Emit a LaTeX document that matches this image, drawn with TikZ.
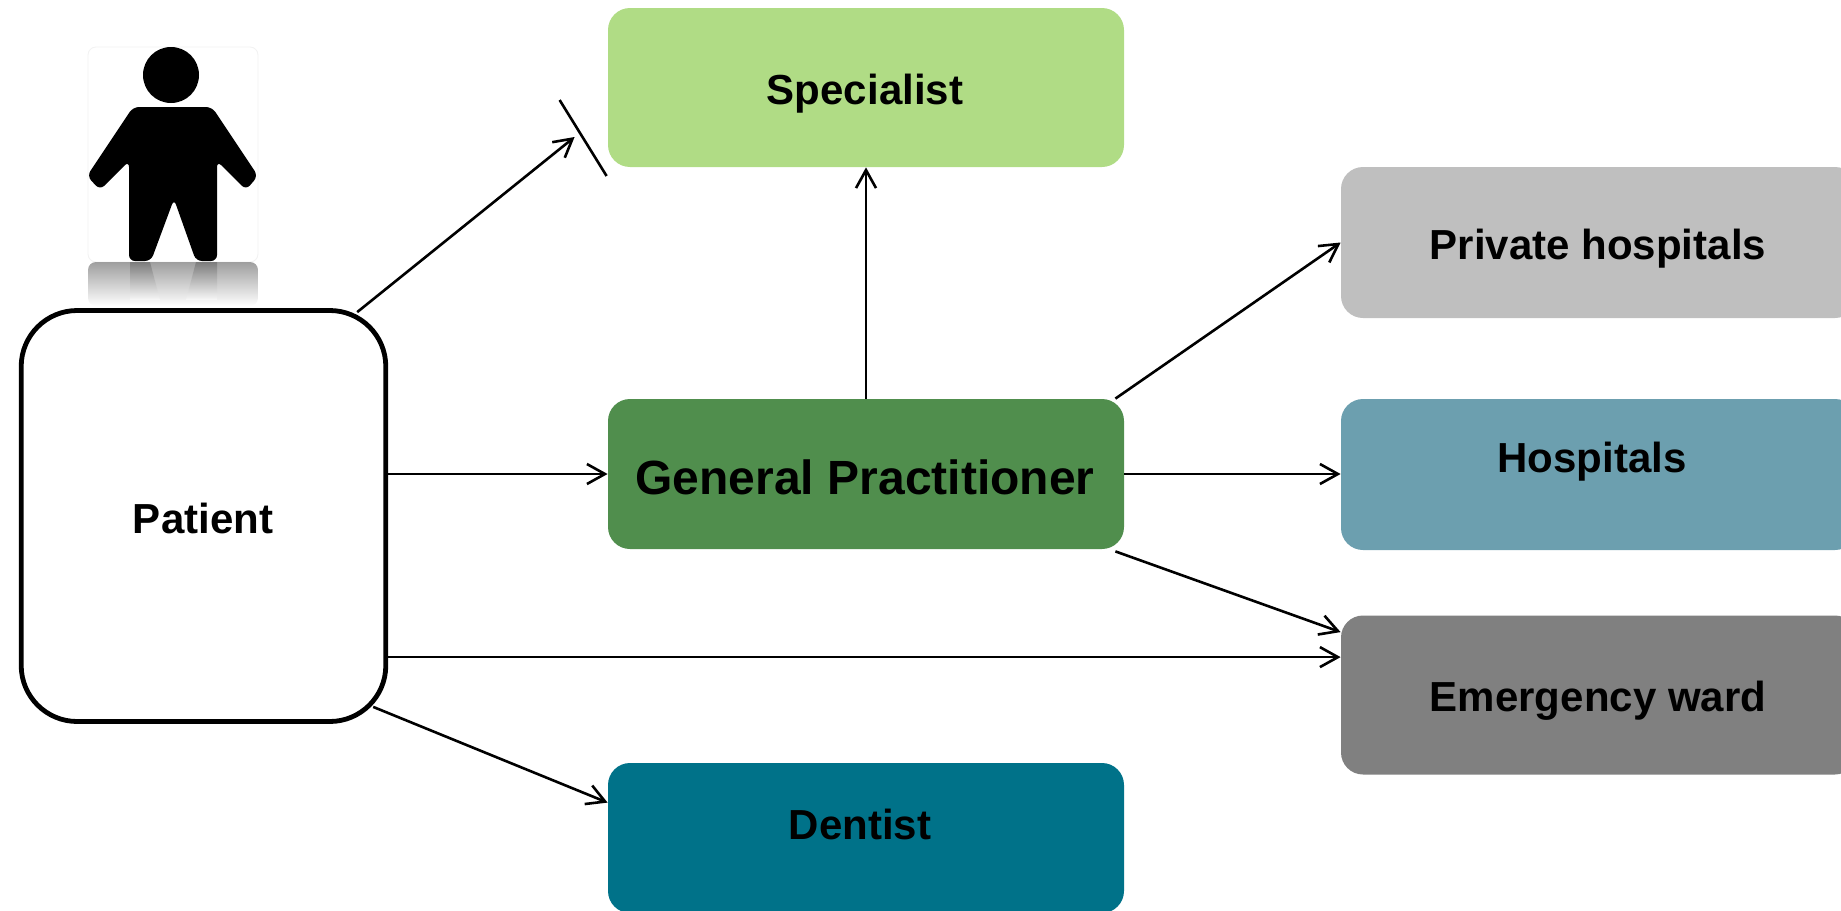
\documentclass[tikz,border=0pt]{standalone}
\usepackage{fontspec}
\setmainfont{Liberation Sans}
\usetikzlibrary{arrows.meta,calc}
\definecolor{specc}{RGB}{176,220,133}
\definecolor{gpc}{RGB}{80,142,77}
\definecolor{privc}{RGB}{191,191,191}
\definecolor{hospc}{RGB}{108,159,175}
\definecolor{emerc}{RGB}{128,128,128}
\definecolor{dentc}{RGB}{0,114,137}
\begin{document}
\begin{tikzpicture}[x=0.5pt,y=-0.5pt,
  cbox/.style={rectangle, rounded corners=11pt, inner sep=0pt, minimum width=258pt, draw=none},
  lbl/.style={anchor=base, inner sep=0pt, font=\fontsize{21pt}{25pt}\selectfont\bfseries},
  biglbl/.style={anchor=base, inner sep=0pt, font=\fontsize{24pt}{28pt}\selectfont\bfseries},
  arr/.style={-{Straight Barb[length=9pt,width=10pt]}, line width=1.3pt},
  plain/.style={line width=1.3pt}]
\useasboundingbox (0,0) rectangle (1841,910);

% person icon
\fill[white] (88,47) rectangle (258,262);
\draw[black!5, rounded corners=4pt] (88,47) rectangle (258,262);
\shade[top color=black!38, bottom color=white, rounded corners=4pt]
  (88,306) -- (88,262) -- (258,262) -- (258,306) -- cycle;
\shade[top color=black!62, bottom color=white, opacity=0.55]
  (130,262) -- (150,262) -- (160,300) -- (130,300) -- cycle;
\shade[top color=black!62, bottom color=white, opacity=0.55]
  (196,262) -- (217,262) -- (217,300) -- (186,300) -- cycle;
\fill[black] (171,75) circle[radius=14pt];
\fill[black, rounded corners=3pt]
  (133,107) -- (212,107) -- (258,176) -- (246,190) -- (217,161) -- (217,261)
  -- (196,261) -- (174,199) -- (151,261) -- (129,261) -- (129,161)
  -- (100,190) -- (87,176) -- cycle;

% boxes
\node[rectangle, draw=black, fill=white, line width=2.4pt, rounded corners=28pt,
  minimum width=182.3pt, minimum height=205.5pt, inner sep=0pt] (pat) at (203.5,516) {};
\node[cbox, fill=specc, minimum height=79.5pt] (spec) at (866,87.5) {};
\node[cbox, fill=gpc, minimum height=75pt] (gp) at (866,474) {};
\node[cbox, fill=privc, minimum height=75.5pt] (priv) at (1599,242.5) {};
\node[cbox, fill=hospc, minimum height=75.5pt] (hosp) at (1599,474.5) {};
\node[cbox, fill=emerc, minimum height=79.5pt] (emer) at (1599,695) {};
\node[cbox, fill=dentc, minimum height=75pt] (dent) at (866,838) {};

% labels
\node[lbl] (patt) at (203,533) {Patient};
\node[lbl] (spect) at (865,104) {Specialist};
\node[biglbl] (gpt) at (865,494) {General Practitioner};
\node[lbl] (privt) at (1598,259) {Private hospitals};
\node[lbl] (hospt) at (1592,472) {Hospitals};
\node[lbl] (emert) at (1598,711) {Emergency ward};
\node[lbl] (dentt) at (860,839) {Dentist};

% helper coordinates
\coordinate (stip) at ($(spec.west)+(-33,49.5)$);
\coordinate (bara) at ($(spec.west)+(-48,12.5)$);
\coordinate (barb) at ($(spec.west)+(-1,88.5)$);
\coordinate (pe) at ($(emer.north west)+(0,42)$);

% connectors
\draw[arr] ($(pat.north east)+(-31,4)$) -- (stip);
\draw[plain] (bara) -- (barb);
\draw[arr] (gp.north) -- (spec.south);
\draw[arr] (pat.east |- gp.west) -- (gp.west);
\draw[arr] ($(gp.north east)+(-9,0)$) -- (priv.west);
\draw[arr] (gp.east) -- (hosp.west |- gp.east);
\draw[arr] ($(gp.south east)+(-9,2)$) -- ($(emer.north west)+(0,17)$);
\draw[arr] (pat.east |- pe) -- (pe);
\draw[arr] ($(pat.south east)+(-15,-17)$) -- ($(dent.north west)+(0,40)$);
\end{tikzpicture}
\end{document}
